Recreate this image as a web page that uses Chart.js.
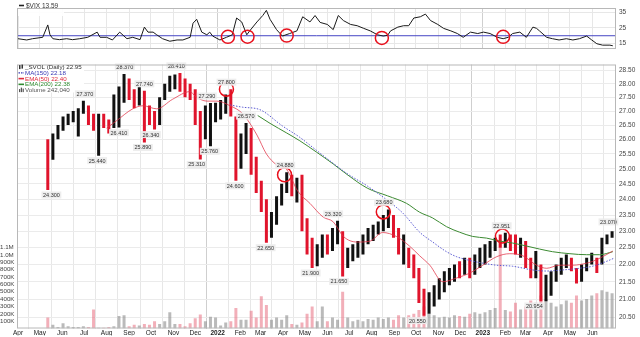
<!DOCTYPE html>
<html><head><meta charset="utf-8">
<script src="https://cdn.jsdelivr.net/npm/chart.js@4.4.0/dist/chart.umd.min.js"></script>
<style>
html,body{margin:0;padding:0;background:#fff;width:640px;height:337px;overflow:hidden}
#vixWrap{position:absolute;left:0;top:0;width:640px;height:57px}
#mainWrap{position:absolute;left:0;top:56px;width:640px;height:281px}
canvas{display:block}
</style></head><body>
<div id="vixWrap"><canvas id="vix"></canvas></div>
<div id="mainWrap"><canvas id="main"></canvas></div>
<script>
const FONT = '"Liberation Sans", Arial, sans-serif';

// ---------- axis categories / tick labels ----------
const monthLabels = ['Apr','May','Jun','Jul','Aug','Sep','Oct','Nov','Dec','2022','Feb','Mar','Apr','May','Jun','Jul','Aug','Sep','Oct','Nov','Dec','2023','Feb','Mar','Apr','May','Jun'];
const priceTicks = [20.5,20.75,21,21.25,21.5,21.75,22,22.25,22.5,22.75,23,23.25,23.5,23.75,24,24.25,24.5,24.75,25,25.25,25.5,25.75,26,26.25,26.5,26.75,27,27.25,27.5,27.75,28,28.25,28.5];
const volTicks = [100000,200000,300000,400000,500000,600000,700000,800000,900000,1000000,1100000];
const volTickLabels = ['100K','200K','300K','400K','500K','600K','700K','800K','900K','1.0M','1.1M'];
const vixTicks = [15,20,25,30,35];

// ---------- _SVOL weekly price bars ----------
const firstWeekDate = '2021-05-12';
const weekLow = [24.30,25.30,26.00,26.30,26.50,26.60,26.10,26.90,26.50,26.30,
 25.44,26.40,26.20,26.40,26.41,27.30,27.40,27.10,27.20,25.89,
 26.50,26.34,26.50,27.40,27.70,27.80,27.70,27.50,27.40,26.50,
 25.31,26.00,25.76,26.60,26.70,26.90,26.80,24.60,25.00,25.50,
 24.80,24.20,23.60,22.65,22.80,23.20,23.80,24.20,24.10,23.90,
 23.00,22.30,21.90,21.95,22.20,22.30,22.40,22.60,21.65,21.90,
 22.10,22.20,22.30,22.60,22.70,22.90,23.00,23.10,22.80,22.30,
 22.00,21.90,21.60,20.90,20.55,20.60,20.80,21.00,21.20,21.40,
 21.50,21.60,21.70,21.60,21.70,21.90,22.00,22.20,22.40,22.50,
 22.50,22.40,22.30,22.20,21.90,21.60,21.60,20.95,20.95,21.10,
 21.50,21.70,21.90,21.80,21.45,21.50,21.80,22.00,21.75,22.00,
 22.60,22.80,22.80];
const weekHigh = [26.00,26.20,26.50,26.80,26.90,27.00,27.10,27.37,27.20,26.90,
 26.90,26.90,26.70,27.60,27.90,28.37,28.20,27.80,27.90,27.74,
 27.20,27.00,27.50,28.00,28.30,28.35,28.41,28.20,28.00,27.80,
 27.00,27.20,27.29,27.30,27.40,27.60,27.80,26.80,26.20,26.57,
 26.40,25.40,24.60,24.00,23.60,24.10,24.50,24.88,24.80,24.70,
 24.80,23.40,22.80,22.60,22.90,22.90,23.10,23.32,23.00,22.50,
 22.60,22.70,22.90,23.10,23.20,23.30,23.50,23.68,23.50,23.10,
 22.90,22.50,22.30,21.90,21.30,21.20,21.40,21.60,21.80,21.90,
 22.00,22.10,22.20,22.20,22.30,22.50,22.60,22.70,22.80,22.90,
 22.95,22.90,22.90,22.80,22.70,22.20,22.40,22.00,21.70,21.80,
 22.00,22.20,22.30,22.20,21.90,22.00,22.20,22.35,22.20,22.80,
 22.90,23.00,23.07];
const weekClose = [25.40,26.10,26.40,26.60,26.80,26.90,27.00,27.20,26.70,26.50,
 26.70,26.60,26.30,27.40,27.60,28.00,27.60,27.50,27.60,27.00,
 26.80,26.60,27.40,27.90,28.10,28.20,27.90,27.80,27.60,26.80,
 26.20,26.80,27.00,27.10,27.20,27.40,27.00,25.00,26.00,26.40,
 25.00,24.50,23.90,23.20,23.40,23.90,24.30,24.60,24.30,24.40,
 23.30,22.60,22.10,22.40,22.70,22.50,22.90,23.00,22.00,22.30,
 22.40,22.50,22.70,22.90,23.00,23.20,23.30,23.40,23.00,22.50,
 22.60,22.10,21.80,21.10,20.80,21.00,21.20,21.40,21.60,21.70,
 21.90,21.80,22.00,21.80,22.20,22.30,22.40,22.60,22.70,22.65,
 22.80,22.60,22.50,22.60,22.10,21.80,22.00,21.10,21.30,21.60,
 21.80,22.00,22.20,21.90,21.60,21.90,22.10,22.20,21.90,22.70,
 22.80,22.90,22.95];
const weekVolume = [150000,50000,20000,70000,30000,20000,20000,30000,20000,260000,
 10000,10000,20000,30000,170000,180000,30000,50000,40000,60000,
 50000,100000,60000,100000,220000,60000,60000,30000,70000,140000,
 190000,100000,160000,150000,40000,80000,100000,280000,120000,120000,
 240000,150000,440000,320000,120000,150000,120000,180000,60000,50000,
 80000,200000,300000,100000,300000,100000,150000,120000,500000,150000,
 100000,120000,100000,130000,120000,150000,130000,150000,120000,180000,
 150000,180000,200000,250000,300000,200000,180000,150000,160000,150000,
 180000,170000,160000,200000,220000,200000,220000,250000,280000,1200000,
 250000,230000,350000,260000,300000,380000,350000,450000,400000,350000,
 300000,330000,380000,350000,450000,380000,400000,450000,480000,520000,
 500000,480000,350000];

// ---------- moving averages ----------
const ema50Dates = ['2021-08-01','2021-08-15','2021-09-06','2021-09-20','2021-10-09','2021-10-31','2021-11-24','2021-12-01','2021-12-17','2021-12-31',
 '2022-01-18','2022-02-04','2022-02-24','2022-03-09','2022-03-23','2022-04-06','2022-04-21','2022-05-08','2022-05-26','2022-06-09',
 '2022-06-23','2022-07-12','2022-07-30','2022-08-16','2022-09-04','2022-09-22','2022-10-06','2022-10-20','2022-11-07','2022-11-26',
 '2022-12-14','2023-01-01','2023-01-20','2023-02-07','2023-02-25','2023-03-16','2023-03-30','2023-04-16','2023-05-05','2023-05-24',
 '2023-06-01','2023-06-15','2023-06-29'];
const ema50Values = [26.39,26.66,27.08,27.19,27.08,27.43,27.71,27.54,27.36,27.36,
 27.19,26.91,26.15,25.50,25.13,24.97,24.27,23.87,23.44,23.29,
 22.84,22.67,22.70,22.96,22.84,22.55,22.26,21.98,21.50,21.61,
 21.75,21.98,22.23,22.32,22.26,21.98,21.89,21.98,21.98,22.04,
 22.09,22.23,22.40];
const ma150Dates = ['2022-01-18','2022-02-04','2022-02-28','2022-03-31','2022-04-24','2022-05-17','2022-06-09','2022-06-28','2022-07-26','2022-08-23',
 '2022-09-13','2022-10-06','2022-10-24','2022-11-12','2022-11-26','2022-12-14','2023-01-01','2023-01-20','2023-02-11','2023-03-11',
 '2023-03-30','2023-04-20','2023-05-14','2023-06-01','2023-06-20','2023-06-30'];
const ma150Values = [27.22,27.14,27.05,26.47,26.07,25.62,25.18,24.84,24.43,23.96,
 23.56,22.97,22.67,22.38,22.23,22.12,22.04,21.98,21.95,21.84,
 21.81,21.84,21.89,21.95,22.09,22.18];
const ema200Dates = ['2022-02-25','2022-03-14','2022-04-06','2022-04-24','2022-05-17','2022-06-09','2022-06-28','2022-07-26','2022-08-23','2022-09-18',
 '2022-10-06','2022-10-24','2022-11-12','2022-11-30','2022-12-18','2023-01-06','2023-01-24','2023-02-11','2023-03-02','2023-03-20',
 '2023-04-07','2023-05-01','2023-05-24','2023-06-11','2023-06-29'];
const ema200Values = [26.84,26.56,26.22,25.95,25.56,25.16,24.81,24.36,24.11,23.87,
 23.59,23.41,23.14,22.97,22.84,22.79,22.70,22.64,22.55,22.46,
 22.38,22.32,22.29,22.29,22.38];

// ---------- swing high / low annotations ----------
const swingDates = ['2021-05-17','2021-07-02','2021-07-19','2021-08-18','2021-08-26','2021-09-20','2021-09-22','2021-10-01','2021-11-05','2021-12-03',
 '2021-12-17','2021-12-21','2022-01-13','2022-01-25','2022-02-09','2022-03-08','2022-04-04','2022-05-09','2022-06-09','2022-06-17',
 '2022-08-18','2022-10-03','2023-01-27','2023-03-13','2023-06-23'];
const swingValues = [24.300,27.370,25.440,26.410,28.370,25.890,27.740,26.340,28.410,25.310,
 27.290,25.760,27.800,24.600,26.570,22.650,24.880,21.900,23.320,21.650,
 23.680,20.550,22.951,20.954,23.070];
const swingKinds = ['L','H','L','L','H','L','H','L','H','L',
 'H','L','H','L','H','L','H','L','H','L',
 'H','L','H','L','H'];

// ---------- red circle highlights ----------
const priceCircleDates = ['2022-01-13','2022-04-03','2022-08-17','2023-01-28'];
const priceCircleValues = [27.80,24.80,23.60,22.85];
const vixCircleDates = ['2022-01-15','2022-02-11','2022-04-06','2022-08-15','2023-01-29'];
const vixCircleValues = [19.3,19.4,20.1,18.6,19.3];

// ---------- $VIX ----------
const vixDates = ['2021-04-01','2021-04-13','2021-04-21','2021-05-05','2021-05-12','2021-05-15','2021-05-19','2021-05-28','2021-06-07','2021-06-15',
 '2021-06-25','2021-07-06','2021-07-19','2021-07-23','2021-08-01','2021-08-09','2021-08-19','2021-08-29','2021-09-06','2021-09-16',
 '2021-09-22','2021-09-27','2021-10-04','2021-10-09','2021-10-17','2021-10-27','2021-11-06','2021-11-14','2021-11-24','2021-11-28',
 '2021-12-03','2021-12-10','2021-12-17','2021-12-21','2021-12-25','2022-01-04','2022-01-13','2022-01-21','2022-01-27','2022-02-03',
 '2022-02-10','2022-02-14','2022-02-24','2022-03-04','2022-03-09','2022-03-14','2022-03-23','2022-03-31','2022-04-10','2022-04-20',
 '2022-04-28','2022-05-08','2022-05-15','2022-05-22','2022-06-01','2022-06-09','2022-06-16','2022-06-23','2022-07-03','2022-07-12',
 '2022-07-21','2022-07-30','2022-08-09','2022-08-17','2022-08-23','2022-08-27','2022-09-06','2022-09-14','2022-09-21','2022-09-28',
 '2022-10-07','2022-10-14','2022-10-21','2022-10-31','2022-11-08','2022-11-18','2022-11-27','2022-12-05','2022-12-15','2022-12-25',
 '2023-01-02','2023-01-11','2023-01-21','2023-01-29','2023-02-05','2023-02-11','2023-02-21','2023-03-02','2023-03-11','2023-03-16',
 '2023-03-20','2023-03-30','2023-04-07','2023-04-16','2023-04-26','2023-05-05','2023-05-14','2023-05-24','2023-05-31','2023-06-07',
 '2023-06-15','2023-06-25','2023-06-29'];
const vixValues = [18.1,17.3,18.1,19.0,26.9,20.6,18.1,17.5,18.1,17.5,
 18.1,19.0,22.3,19.0,19.0,17.3,22.3,18.1,19.0,17.5,
 25.5,22.3,22.3,20.6,18.1,16.5,17.3,17.3,19.0,28.0,
 30.5,22.3,20.6,22.3,19.8,17.3,19.0,20.6,31.3,28.8,
 20.6,23.1,28.8,32.9,36.2,30.5,23.9,19.8,21.4,23.1,
 32.1,28.8,32.9,28.5,27.2,23.9,32.9,29.7,27.2,26.4,
 24.7,23.1,20.6,19.8,20.3,23.1,25.5,26.4,26.4,31.3,
 32.1,33.8,29.7,27.2,24.7,23.1,21.4,19.0,22.3,21.4,
 22.3,21.4,19.0,18.1,19.0,21.4,22.3,19.0,25.5,24.7,
 23.1,19.0,18.1,17.3,18.1,17.3,18.1,19.8,17.3,14.9,
 14.0,14.0,13.6];
const vixLevel = 20;

const lastVix = 13.59, lastClose = 22.95, lastMA150 = 22.18, lastEMA50 = 22.40, lastEMA200 = 22.38, lastVolume = '242,040';

// ---------- helpers ----------
const DAY0 = Date.UTC(2021,3,1);
function dayIdx(s){const p=s.split('-').map(Number);return (Date.UTC(p[0],p[1]-1,p[2])-DAY0)/86400000;}
const X_MIN = -1.4, X_MAX = 823.4;
const monthStartIdx = monthLabels.map((_,k)=>(Date.UTC(2021,3+k,1)-DAY0)/86400000);
const isYear = i => /^\d{4}$/.test(monthLabels[i]||'');
const pairs = (ds,vs)=>ds.map((d,i)=>({x:dayIdx(d),y:vs[i]}));
const zeroPad = s => { s.paddingTop=0; s.paddingBottom=0; s.paddingLeft=0; s.paddingRight=0; };

const w0 = dayIdx(firstWeekDate);
const weekX = weekLow.map((_,i)=>w0+7*i);
const up = weekClose.map((c,i)=> i>0 && c>=weekClose[i-1]);
const RED = '#e0142c';

const xScaleBase = {
  type:'linear', min:X_MIN, max:X_MAX, offset:false,
  afterBuildTicks(s){ s.ticks = monthStartIdx.map(v=>({value:v})); },
  grid:{ color:c=> isYear(c.index) ? '#cfcfcf' : '#e7e7e7', drawTicks:false, lineWidth:1 },
  border:{ display:false }
};

// ---------- VIX chart ----------
const vixDeco = {
  id:'vixDeco',
  afterDraw(chart){
    const {ctx, chartArea:a} = chart;
    ctx.save();
    ctx.strokeStyle='#b8b8b8'; ctx.lineWidth=1;
    ctx.strokeRect(a.left+0.5, a.top+0.5, a.width-1, a.height-1);
    ctx.fillStyle='rgba(255,255,255,0.92)'; ctx.fillRect(a.left+1, a.top+1, 46, 7);
    ctx.strokeStyle='#222'; ctx.lineWidth=1.6;
    ctx.beginPath(); ctx.moveTo(19,5.5); ctx.lineTo(24,5.5); ctx.stroke();
    ctx.font='6.5px '+FONT; ctx.fillStyle='#333'; ctx.textBaseline='middle'; ctx.textAlign='left';
    ctx.fillText('$VIX '+lastVix.toFixed(2), 26, 5.8);
    ctx.restore();
  }
};
new Chart(document.getElementById('vix'), {
  type:'line',
  data:{ datasets:[
    { data:[{x:X_MIN,y:vixLevel},{x:X_MAX,y:vixLevel}], borderColor:'#4646c4', borderWidth:1, pointRadius:0, order:2 },
    { data:pairs(vixDates,vixValues), borderColor:'#1a1a1a', borderWidth:1, pointRadius:0, tension:0, order:1 },
    { data:pairs(vixCircleDates,vixCircleValues), showLine:false, pointRadius:6.5, pointBorderColor:'#e8101c', pointBorderWidth:1.5, pointBackgroundColor:'rgba(0,0,0,0)', order:0 }
  ]},
  options:{
    responsive:true, maintainAspectRatio:false, animation:false, events:[],
    layout:{ padding:{ left:17, top:2, right:0, bottom:0 } },
    plugins:{ legend:{display:false}, tooltip:{enabled:false} },
    scales:{
      x:Object.assign({}, xScaleBase, { ticks:{display:false}, afterFit(s){ s.height=2; zeroPad(s);} }),
      y:{ type:'linear', position:'right', min:11.54, max:37.7,
          afterBuildTicks(s){ s.ticks = vixTicks.map(v=>({value:v})); },
          afterFit(s){ s.width=24; zeroPad(s); },
          ticks:{ font:{size:6.5, family:FONT}, color:'#444', padding:3, callback:v=>String(v) },
          grid:{ color:'#e7e7e7', drawTicks:false }, border:{display:false} }
    }
  },
  plugins:[vixDeco]
});

// ---------- main chart ----------
const mainDeco = {
  id:'mainDeco',
  afterDatasetsDraw(chart){
    const {ctx, scales:{x,y}} = chart;
    ctx.save();
    ctx.font='5.5px '+FONT; ctx.textAlign='center'; ctx.textBaseline='middle';
    swingDates.forEach((d,i)=>{
      const px = x.getPixelForValue(dayIdx(d));
      const py = y.getPixelForValue(swingValues[i]) + (swingKinds[i]==='H' ? -7 : 5);
      const t = swingValues[i].toFixed(3);
      const w = ctx.measureText(t).width + 3;
      ctx.fillStyle='rgba(236,236,236,0.95)';
      ctx.fillRect(px-w/2, py-3.5, w, 7);
      ctx.fillStyle='#333';
      ctx.fillText(t, px, py+0.4);
    });
    ctx.restore();
  },
  beforeDatasetsDraw(chart){
    const {ctx, chartArea:a} = chart;
    ctx.save();
    ctx.fillStyle='#fff'; ctx.fillRect(a.left+1, a.top+0.5, 66, 27.5);
    ctx.restore();
  },
  afterDraw(chart){
    const {ctx, chartArea:a} = chart;
    ctx.save();
    ctx.strokeStyle='#b8b8b8'; ctx.lineWidth=1;
    ctx.strokeRect(a.left+0.5, a.top+0.5, a.width-1, a.height-1);
    const rows = [
      {t:'_SVOL (Daily) '+lastClose.toFixed(2), c:'#333', icon:'candle'},
      {t:'MA(150) '+lastMA150.toFixed(2), c:'#3838b4', icon:'dash'},
      {t:'EMA(50) '+lastEMA50.toFixed(2), c:'#e0283c', icon:'line'},
      {t:'EMA(200) '+lastEMA200.toFixed(2), c:'#2f8a2f', icon:'line'},
      {t:'Volume '+lastVolume, c:'#555', icon:'bar'}
    ];
    ctx.font='6.2px '+FONT; ctx.textBaseline='middle'; ctx.textAlign='left';
    rows.forEach((r,i)=>{
      const yy = a.top + 2.6 + 5.75*i;
      ctx.fillStyle=r.c; ctx.strokeStyle=r.c;
      if(r.icon==='candle'){ ctx.fillRect(19,yy-2,1.5,4); ctx.fillRect(21.5,yy-2.5,1.5,4); }
      else if(r.icon==='dash'){ ctx.lineWidth=1.2; ctx.setLineDash([1.5,1]); ctx.beginPath(); ctx.moveTo(18.5,yy); ctx.lineTo(24,yy); ctx.stroke(); ctx.setLineDash([]); }
      else if(r.icon==='line'){ ctx.lineWidth=1.6; ctx.beginPath(); ctx.moveTo(18.5,yy); ctx.lineTo(24,yy); ctx.stroke(); }
      else { ctx.fillRect(19,yy-1,1.2,3); ctx.fillRect(20.8,yy-2.5,1.2,4.5); ctx.fillRect(22.6,yy-1.5,1.2,3.5); }
      ctx.fillStyle=r.c;
      ctx.fillText(r.t, 25, yy+0.3);
    });
    ctx.restore();
  }
};

new Chart(document.getElementById('main'), {
  type:'bar',
  data:{ datasets:[
    { type:'bar', yAxisID:'vol', order:10, grouped:false, maxBarThickness:3,
      data: weekX.map((x,i)=>({x, y:weekVolume[i]})),
      backgroundColor: up.map(u=> u ? 'rgba(140,140,140,0.6)' : 'rgba(232,110,128,0.55)') },
    { type:'bar', yAxisID:'y', order:5, grouped:false, maxBarThickness:3,
      data: weekX.map((x,i)=>({x, y:[weekLow[i], weekHigh[i]]})),
      backgroundColor: up.map(u=> u ? '#111' : RED) },
    { type:'line', yAxisID:'y', order:3, data:pairs(ema200Dates,ema200Values), borderColor:'#3c8a32', borderWidth:1, pointRadius:0, cubicInterpolationMode:'monotone' },
    { type:'line', yAxisID:'y', order:2, data:pairs(ma150Dates,ma150Values), borderColor:'#5a5ad2', borderWidth:1, borderDash:[1.5,1.5], pointRadius:0, cubicInterpolationMode:'monotone' },
    { type:'line', yAxisID:'y', order:1, data:pairs(ema50Dates,ema50Values), borderColor:'rgba(226,50,70,0.75)', borderWidth:1, pointRadius:0, cubicInterpolationMode:'monotone' },
    { type:'line', yAxisID:'y', order:0, data:pairs(priceCircleDates,priceCircleValues), showLine:false, pointRadius:7, pointBorderColor:'#e8101c', pointBorderWidth:1.5, pointBackgroundColor:'rgba(0,0,0,0)' }
  ]},
  options:{
    responsive:true, maintainAspectRatio:false, animation:false, events:[],
    layout:{ padding:{ left:0, top:1, right:0, bottom:0 } },
    plugins:{ legend:{display:false}, tooltip:{enabled:false} },
    scales:{
      x:Object.assign({}, xScaleBase, {
        afterFit(s){ s.height=7; zeroPad(s); },
        ticks:{ autoSkip:false, maxRotation:0, minRotation:0, padding:0.5, color:'#222',
          font:c=>({size:6.5, family:FONT, weight: isYear(c.index)?'bold':'normal'}),
          callback:(v,i)=>monthLabels[i] }
      }),
      y:{ type:'logarithmic', position:'right', min:20.24, max:28.73,
          afterBuildTicks(s){ s.ticks = priceTicks.map(v=>({value:v})); },
          afterFit(s){ s.width=24; zeroPad(s); },
          ticks:{ font:{size:6.5, family:FONT}, color:'#444', padding:3, callback:v=>Number(v).toFixed(2) },
          grid:{ color:'#ebebeb', drawTicks:false }, border:{display:false} },
      vol:{ type:'linear', position:'left', min:0, max:3590000,
          afterBuildTicks(s){ s.ticks = volTicks.map(v=>({value:v})); },
          afterFit(s){ s.width=17; zeroPad(s); },
          ticks:{ font:{size:6.2, family:FONT}, color:'#444', padding:0, crossAlign:'far',
            callback:(v,i)=>volTickLabels[i] },
          grid:{ display:false }, border:{display:false} }
    }
  },
  plugins:[mainDeco]
});
</script></body></html>
